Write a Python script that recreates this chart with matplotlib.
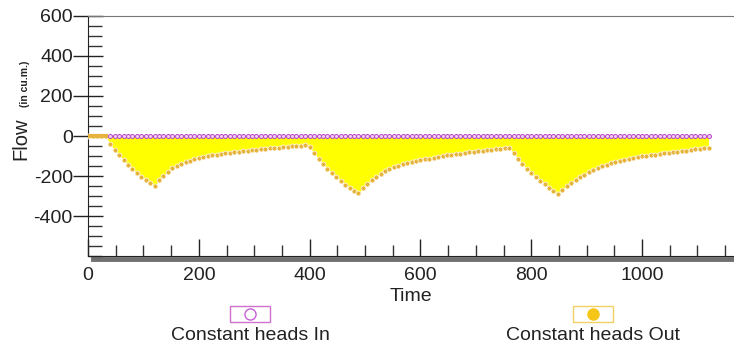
import matplotlib
matplotlib.use("Agg")
import matplotlib.pyplot as plt
import numpy as np
from matplotlib.patches import Rectangle
from matplotlib.lines import Line2D
from matplotlib.ticker import MultipleLocator

plt.rcParams['font.family'] = ['Liberation Sans', 'DejaVu Sans']
plt.rcParams['axes.unicode_minus'] = False

# time grid of the model output (days)
time = np.arange(0, 1121, 8)

# constant heads Out (cu.m.)
flow_out = [
    0, 0, 0, 0, 0,
    -42, -70, -97, -120, -143, -165, -185, -203, -220, -236, -250,
    -222, -200, -178, -162, -150, -139, -130, -123, -116, -111,
    -106, -101, -97, -93, -90, -87, -84, -81, -78, -75,
    -73, -71, -69, -67, -64, -62, -60, -58, -56, -54,
    -52, -50, -48, -46,
    -55, -85, -115, -140, -163, -185, -205, -224, -243, -260, -275, -287,
    -262, -240, -221, -204, -190, -177, -166, -157, -149, -142,
    -137, -132, -127, -122, -117, -113, -109, -105, -101, -97,
    -94, -91, -88, -85, -82, -79, -77, -74, -72, -69,
    -67, -64, -62, -60,
    -85, -113, -142, -165, -186, -205, -223, -241, -259, -276, -292,
    -270, -252, -236, -221, -207, -193, -180, -168, -158, -150,
    -143, -136, -130, -124, -119, -114, -110, -106, -102, -99,
    -96, -93, -89, -86, -83, -81, -78, -76, -73, -70,
    -67, -64, -61, -58,
]

# constant heads In: zero once the model starts reporting
in_start = 40
flow_in_value = 0

legend_labels = ['Constant heads In', 'Constant heads Out']

flow_out = np.array(flow_out)
in_time = time[time >= in_start]
flow_in = np.full(len(in_time), flow_in_value)

fig = plt.figure(figsize=(7.34, 3.44), dpi=100)
ax = fig.add_axes([0.12, 0.2558, 0.88, 0.6977])

ax.fill_between(time, flow_out, 0, color='#FFFF00', lw=0, zorder=1)
ax.plot(time, flow_out, ls='none', marker='o', ms=3.6, mfc='#E6B43C',
        mec='white', mew=0.5, zorder=3)
ax.plot(time[flow_out == 0], flow_out[flow_out == 0], color='#E6B43C', lw=3, zorder=3)
ax.plot(in_time, flow_in, color='#C860D8', lw=0.8, marker='o', ms=2.9,
        mfc='#F0D0F5', mec='#B848C8', mew=0.7, zorder=4)

ax.set_xlim(0, 1166)
ax.set_ylim(-600, 600)
ax.set_yticks(range(-400, 601, 200))
ax.set_xticks(range(0, 1001, 200))
ax.yaxis.set_minor_locator(MultipleLocator(50))
ax.xaxis.set_minor_locator(MultipleLocator(50))

ax.tick_params(axis='y', which='major', direction='inout', length=22, width=1,
               labelsize=14, pad=0, colors='#222222')
ax.tick_params(axis='y', which='minor', direction='in', length=10, width=1, color='#333333')
ax.tick_params(axis='x', which='major', direction='in', length=12, width=1,
               labelsize=14, pad=8, colors='#222222')
ax.tick_params(axis='x', which='minor', direction='in', length=8, width=1, color='#333333')

ax.spines['right'].set_visible(False)
ax.spines['top'].set_color('#777777')
ax.spines['left'].set_color('#222222')
ax.spines['bottom'].set_color('#222222')

# grey shadow under the time axis
ax.add_line(Line2D([0.008, 1.0], [-0.011, -0.011], transform=ax.transAxes,
                   color='#707070', lw=3.5, clip_on=False, zorder=0))

ax.set_xlabel('Time', fontsize=14, labelpad=3, color='#222222')
fig.text(0.028, 0.535, 'Flow', rotation=90, fontsize=14.5, ha='center', va='bottom', color='#222222')
fig.text(0.034, 0.69, '(in cu.m.)', rotation=90, fontsize=7.5, fontweight='bold',
         ha='center', va='bottom', color='#222222')

# legend boxes under the chart
box_x = [0.3406, 0.808]
box_edge = ['#D070D0', '#F0D060']
marker_fc = ['white', '#F5C518']
marker_ec = ['#C860D8', '#F5C518']
for x, lab, ec, mfc, mec in zip(box_x, legend_labels, box_edge, marker_fc, marker_ec):
    fig.patches.append(Rectangle((x - 0.0272, 0.064), 0.0545, 0.0465, fill=False,
                                 edgecolor=ec, lw=1, transform=fig.transFigure))
    fig.lines.append(Line2D([x], [0.0872], marker='o', ms=8, mfc=mfc, mec=mec,
                            mew=1, transform=fig.transFigure))
    fig.text(x, 0.026, lab, fontsize=14, ha='center', va='center', color='#222222')

fig.savefig('out.png', dpi=100)
